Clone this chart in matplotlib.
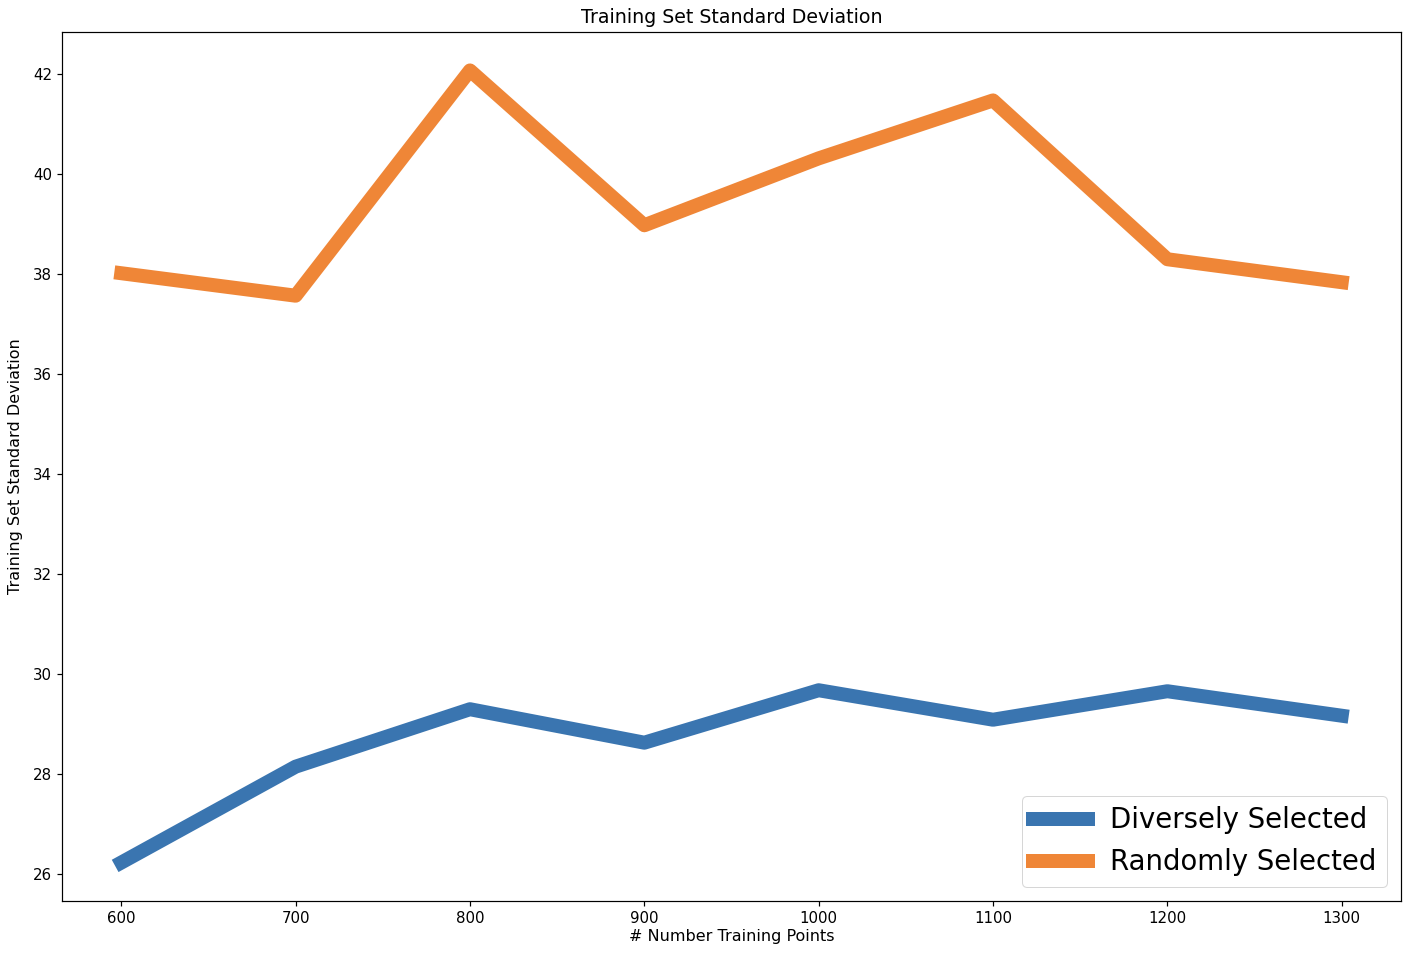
import matplotlib
matplotlib.use("Agg")
import matplotlib.pyplot as plt

# number of training points
n_points = [600, 700, 800, 900, 1000, 1100, 1200, 1300]

# standard deviation of the training set
diverse_std = [26.22, 28.14, 29.29, 28.62, 29.67, 29.08, 29.65, 29.16]
random_std = [38.02, 37.57, 42.08, 38.98, 40.32, 41.48, 38.30, 37.84]

fig = plt.figure(figsize=(1412 / 72, 958 / 72), dpi=72)
ax = fig.add_axes([62 / 1412, 1 - 901 / 958, (1401 - 62) / 1412, (901 - 32) / 958])

ax.plot(n_points, diverse_std, color='#3a75b0', linewidth=14, label='Diversely Selected')
ax.plot(n_points, random_std, color='#ef8637', linewidth=14, label='Randomly Selected')

ax.set_xlim(566, 1334)
ax.set_ylim(25.45, 42.85)
ax.set_title('Training Set Standard Deviation', fontsize=19, pad=9)
ax.set_xlabel('# Number Training Points', fontsize=16, labelpad=3)
ax.set_ylabel('Training Set Standard Deviation', fontsize=16, labelpad=10)
ax.tick_params(labelsize=15, length=5, width=1.2, pad=5)
for s in ax.spines.values():
    s.set_linewidth(1.2)
ax.legend(loc='lower right', fontsize=27.5, handlelength=2.0)

fig.savefig('out.png', dpi=72)
